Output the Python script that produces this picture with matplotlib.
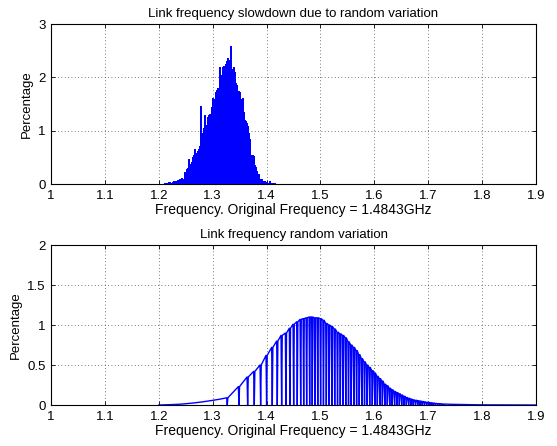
import matplotlib
matplotlib.use("Agg")
import matplotlib.pyplot as plt
import numpy as np

plt.rcParams['font.family'] = ['Liberation Sans', 'DejaVu Sans']

# ---- top panel: histogram of slowed-down link frequency ----
hist_start = 1.210      # left edge of first bin
hist_width = 0.002      # bin width
hist_values = [
    0.01, 0.02, 0.02, 0.0, 0.03, 0.02, 0.01, 0.04, 0.06, 0.05,
    0.03, 0.06, 0.08, 0.05, 0.10, 0.09, 0.12, 0.10, 0.22, 0.20,
    0.28, 0.30, 0.46, 0.34, 0.38, 0.42, 0.50, 0.55, 0.66, 0.58,
    0.62, 0.65, 0.72, 1.46, 0.92, 0.95, 1.05, 1.30, 1.02, 1.10,
    1.25, 1.30, 1.32, 1.45, 1.62, 1.52, 1.60, 1.72, 1.76, 1.80,
    1.78, 2.20, 2.05, 2.00, 2.20, 2.22, 2.25, 2.30, 2.36, 2.32,
    2.20, 2.58, 2.05, 2.15, 2.20, 2.10, 1.90, 1.85, 1.75, 1.72,
    1.60, 1.55, 1.62, 1.35, 1.20, 1.18, 1.15, 1.08, 0.95, 0.85,
    0.45, 0.55, 0.52, 0.35, 0.32, 0.25, 0.15, 0.18, 0.10, 0.08,
    0.10, 0.06, 0.04, 0.05, 0.03, 0.02, 0.02, 0.05, 0.01, 0.02,
    0.01, 0.0, 0.01,
]

# ---- bottom panel: random variation (line with empty-bin dips) ----
left_tail_x = [1.20, 1.22, 1.24, 1.26, 1.28, 1.30, 1.315]
left_tail_y = [0.0, 0.004, 0.010, 0.022, 0.038, 0.058, 0.075]
dip_freqs = [
    1.3271, 1.3488, 1.3649, 1.3772, 1.3890, 1.4001, 1.4106, 1.4199, 1.4280, 1.4360,
    1.4434, 1.4503, 1.4570, 1.4633, 1.4689, 1.4744, 1.4800, 1.4848, 1.4898, 1.4950,
    1.5003, 1.5056, 1.5109, 1.5161, 1.5213, 1.5265, 1.5317, 1.5368, 1.5419, 1.5470,
    1.5521, 1.5571, 1.5621, 1.5671, 1.5720, 1.5769, 1.5818, 1.5866, 1.5914, 1.5962,
    1.6009, 1.6056, 1.6103, 1.6149, 1.6195, 1.6241, 1.6286, 1.6331, 1.6376, 1.6420,
    1.6464, 1.6508, 1.6551, 1.6594, 1.6637, 1.6680, 1.6722, 1.6764, 1.6806, 1.6848,
    1.6889, 1.6930, 1.6971, 1.7012, 1.7052, 1.7092, 1.7132, 1.7172, 1.7212, 1.7251,
    1.7290,
]
dip_levels = [
    0.09, 0.23, 0.35, 0.42, 0.50, 0.62, 0.72, 0.80, 0.87, 0.90,
    0.96, 1.01, 1.04, 1.07, 1.08, 1.09, 1.10, 1.10, 1.09, 1.09,
    1.08, 1.06, 1.02, 1.00, 0.98, 0.95, 0.91, 0.89, 0.87, 0.84,
    0.79, 0.75, 0.72, 0.68, 0.63, 0.58, 0.54, 0.50, 0.47, 0.43,
    0.40, 0.36, 0.33, 0.30, 0.26, 0.24, 0.21, 0.19, 0.17, 0.155,
    0.14, 0.125, 0.11, 0.095, 0.085, 0.075, 0.065, 0.06, 0.055, 0.05,
    0.045, 0.04, 0.035, 0.032, 0.028, 0.025, 0.021, 0.018, 0.016, 0.014,
    0.012,
]
right_tail_x = [1.74, 1.76, 1.78, 1.80, 1.83, 1.86, 1.90]
right_tail_y = [0.009, 0.006, 0.004, 0.002, 0.001, 0.0, 0.0]

xticks = [1.0, 1.1, 1.2, 1.3, 1.4, 1.5, 1.6, 1.7, 1.8, 1.9]
xtick_labels = ['1', '1.1', '1.2', '1.3', '1.4', '1.5', '1.6', '1.7', '1.8', '1.9']
top_yticks = [0, 1, 2, 3]
bottom_yticks = [0, 0.5, 1, 1.5, 2]
bottom_ytick_labels = ['0', '0.5', '1', '1.5', '2']

fig = plt.figure(figsize=(5.57, 4.46), dpi=100)
ax1 = fig.add_axes([51/557, 1 - 184/446, 485/557, 160/446])
ax2 = fig.add_axes([51/557, 1 - 405/446, 485/557, 160/446])

centers = hist_start + hist_width * (np.arange(len(hist_values)) + 0.5)
ax1.bar(centers, hist_values, width=hist_width, color=(0, 0, 1),
        edgecolor=(0, 0, 1), linewidth=0.5, antialiased=False, zorder=3)

# build the line: tails plus a narrow V at each empty bin
half = 0.0011
lx = list(left_tail_x)
ly = list(left_tail_y)
for d, e in zip(dip_freqs, dip_levels):
    lx += [d - half, d, d + half]
    ly += [e, 0.0, e]
lx += right_tail_x
ly += right_tail_y
ax2.plot(lx, ly, color=(0, 0, 1), linewidth=1.0, zorder=3)

titles = ['Link frequency slowdown due to random variation',
          'Link frequency random variation']
for ax, title in zip([ax1, ax2], titles):
    ax.set_xlim(1.0, 1.9)
    ax.set_xticks(xticks)
    ax.set_xticklabels(xtick_labels)
    ax.grid(True, linestyle=(0, (1, 3)), color='0.3', linewidth=0.6)
    ax.set_axisbelow(True)
    ax.tick_params(direction='in', top=True, right=True, length=3,
                   labelsize=9.5, width=0.6, pad=4)
    for s in ax.spines.values():
        s.set_linewidth(0.8)
    ax.set_title(title, fontsize=9.5, pad=5)
    ax.set_xlabel('Frequency. Original Frequency = 1.4843GHz', fontsize=10, labelpad=1)
    ax.set_ylabel('Percentage', fontsize=9.5, labelpad=4)

ax1.set_ylim(0, 3)
ax1.set_yticks(top_yticks)
ax2.set_ylim(0, 2)
ax2.set_yticks(bottom_yticks)
ax2.set_yticklabels(bottom_ytick_labels)

fig.savefig('out.png', dpi=100)
